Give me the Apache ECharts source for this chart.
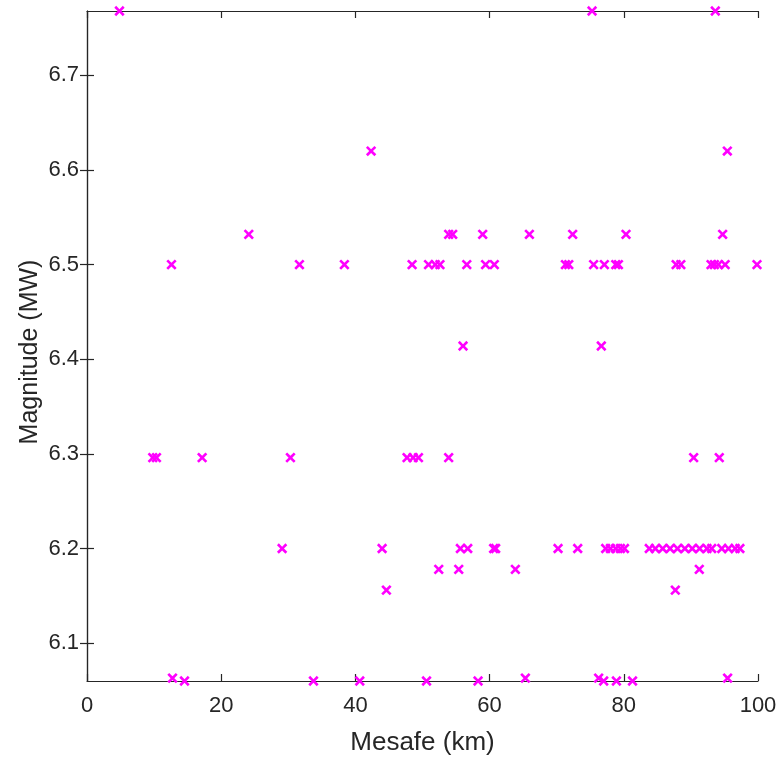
<!DOCTYPE html>
<html>
<head>
<meta charset="utf-8">
<script src="https://cdn.jsdelivr.net/npm/echarts@6/dist/echarts.min.js"></script>
<style>
html,body{margin:0;padding:0;background:#fff;}
#chart{width:781px;height:761px;}
</style>
</head>
<body>
<div id="chart"></div>
<script>
// Distance (km) and magnitude (Mw) of each record, paired by index
const distanceKm = [
  4.84, 75.27, 93.64,
  42.34, 95.43,
  24.11, 53.9, 54.5, 58.97, 65.93, 72.38, 80.33, 94.73,
  12.59, 31.66, 38.36, 48.45, 50.9, 51.9, 52.6, 56.6, 59.4, 60.7, 71.3, 71.8, 75.5, 77.1, 78.8, 79.2, 87.8, 88.5, 93.0, 93.5, 94.1, 95.1, 99.85,
  56.04, 76.65,
  9.8, 10.35, 17.16, 30.32, 47.7, 48.6, 49.4, 53.9, 90.41, 94.23,
  29.08, 43.98, 55.65, 56.74, 60.6, 60.9, 70.2, 73.13, 77.3, 78.0, 78.8, 79.5, 80.1, 83.8, 84.7, 85.8, 86.9, 88.0, 89.1, 90.2, 91.3, 92.4, 93.1, 94.6, 95.6, 96.6, 97.3,
  52.42, 55.4, 63.84, 91.25,
  44.62, 87.68,
  12.74, 65.33, 76.25, 95.47,
  14.53, 33.75, 40.65, 50.6, 58.28, 77.0, 78.9, 81.3
];
const magnitudeMw = [
  6.768, 6.768, 6.768,
  6.62, 6.62,
  6.532, 6.532, 6.532, 6.532, 6.532, 6.532, 6.532, 6.532,
  6.5, 6.5, 6.5, 6.5, 6.5, 6.5, 6.5, 6.5, 6.5, 6.5, 6.5, 6.5, 6.5, 6.5, 6.5, 6.5, 6.5, 6.5, 6.5, 6.5, 6.5, 6.5, 6.5,
  6.414, 6.414,
  6.296, 6.296, 6.296, 6.296, 6.296, 6.296, 6.296, 6.296, 6.296, 6.296,
  6.2, 6.2, 6.2, 6.2, 6.2, 6.2, 6.2, 6.2, 6.2, 6.2, 6.2, 6.2, 6.2, 6.2, 6.2, 6.2, 6.2, 6.2, 6.2, 6.2, 6.2, 6.2, 6.2, 6.2, 6.2, 6.2, 6.2,
  6.178, 6.178, 6.178, 6.178,
  6.156, 6.156,
  6.063, 6.063, 6.063, 6.063,
  6.06, 6.06, 6.06, 6.06, 6.06, 6.06, 6.06, 6.06
];
const xTicks = [0, 20, 40, 60, 80, 100];
const yTicks = [6.1, 6.2, 6.3, 6.4, 6.5, 6.6, 6.7];
const xRange = [0, 100];
const yRange = [6.06, 6.768];
const xName = 'Mesafe (km)';
const yName = 'Magnitude (MW)';

const points = distanceKm.map((d, i) => [d, magnitudeMw[i]]);
const ink = '#262626';
const font = 'Arial, "Liberation Sans", Helvetica, sans-serif';

const chart = echarts.init(document.getElementById('chart'), null, {renderer: 'canvas'});
const axisLineStyle = {show: true, lineStyle: {color: ink, width: 1.2}};
const tickStyle = {show: true, inside: true, length: 7, lineStyle: {color: ink, width: 1.2}};

chart.setOption({
  animation: false,
  backgroundColor: '#ffffff',
  grid: {left: 87, right: 23, top: 11, bottom: 80, containLabel: false},
  xAxis: [
    {
      type: 'value', position: 'bottom', min: xRange[0], max: xRange[1],
      axisLine: axisLineStyle,
      axisTick: Object.assign({}, tickStyle, {customValues: xTicks}),
      axisLabel: {customValues: xTicks, color: ink, fontSize: 22, fontFamily: font, margin: 14},
      splitLine: {show: false},
      name: xName, nameLocation: 'middle', nameGap: 49, nameMoveOverlap: false,
      nameTextStyle: {color: ink, fontSize: 26, fontFamily: font}
    },
    {
      type: 'value', position: 'top', min: xRange[0], max: xRange[1],
      axisLine: axisLineStyle,
      axisTick: Object.assign({}, tickStyle, {customValues: xTicks}),
      axisLabel: {show: false},
      splitLine: {show: false}
    }
  ],
  yAxis: [
    {
      type: 'value', position: 'left', min: yRange[0], max: yRange[1],
      axisLine: axisLineStyle,
      axisTick: Object.assign({}, tickStyle, {customValues: yTicks}),
      axisLabel: {customValues: yTicks, color: ink, fontSize: 22, fontFamily: font, margin: 8,
        formatter: v => v.toFixed(1)},
      splitLine: {show: false},
      name: yName, nameLocation: 'middle', nameGap: 44, nameRotate: 90, nameMoveOverlap: false,
      nameTextStyle: {color: ink, fontSize: 25, fontFamily: font, padding: [0, 12, 0, 0]}
    },
    {
      type: 'value', position: 'right', min: yRange[0], max: yRange[1],
      axisLine: axisLineStyle,
      axisTick: Object.assign({}, tickStyle, {customValues: yTicks}),
      axisLabel: {show: false},
      splitLine: {show: false}
    }
  ],
  series: [{
    type: 'scatter',
    xAxisIndex: 0, yAxisIndex: 0,
    data: points,
    symbol: 'path://M3.9,0H6.1V3.9H10V6.1H6.1V10H3.9V6.1H0V3.9H3.9Z',
    symbolSize: 12,
    symbolRotate: 45,
    itemStyle: {color: '#ff00ff', opacity: 1},
    clip: false,
    z: 5
  }]
});
</script>
</body>
</html>
